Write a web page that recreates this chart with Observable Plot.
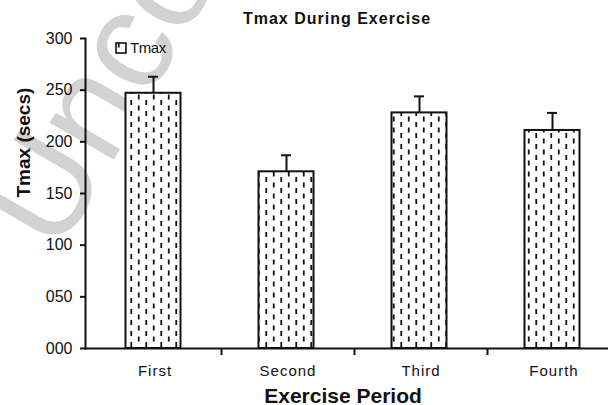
<!DOCTYPE html>
<html>
<head>
<meta charset="utf-8">
<script src="https://cdn.jsdelivr.net/npm/d3@7"></script>
<script src="https://cdn.jsdelivr.net/npm/@observablehq/plot@0.6"></script>
<style>
  html, body { margin: 0; padding: 0; background: #fff; }
  #wrap { position: relative; width: 608px; height: 405px; overflow: hidden; font-family: "Liberation Sans", Arial, sans-serif; color: #111; }
  #title { position: absolute; left: 0; top: 0; width: 608px; box-sizing: border-box; padding-left: 66px; padding-top: 12px;
           text-align: center; font-weight: bold; font-size: 16px; line-height: 14px; letter-spacing: 1px; z-index: 2; }
  #chart { position: absolute; left: 0; top: 28px; }
  #legend { position: absolute; left: 115px; top: 40px; display: flex; align-items: center; font-size: 15px; line-height: 16px; letter-spacing: -0.4px; z-index: 2; }
  #legend svg { margin-right: 3px; }
  g[aria-label="x-axis tick label"] text { letter-spacing: 1px; }
</style>
</head>
<body>
<div id="wrap">
  <div id="title">Tmax During Exercise</div>
  <div id="chart"></div>
  <div id="legend"></div>
</div>
<script>
const periods = ["First", "Second", "Third", "Fourth"];
const tmax = [247, 171, 228, 211];
const tmaxErr = [16, 16, 16, 17];
const yTicks = [0, 50, 100, 150, 200, 250, 300];
const seriesName = "Tmax";
const watermark = ["Uncorrected"];

const data = periods.map((p, i) => ({period: p, value: tmax[i], err: tmaxErr[i]}));

const plot = Plot.plot({
  width: 608,
  height: 377,
  marginTop: 10,
  marginBottom: 57,
  marginLeft: 85,
  marginRight: 0,
  style: {fontFamily: "'Liberation Sans', Arial, sans-serif", fontSize: "16px", color: "#111", background: "white", overflow: "visible"},
  x: {domain: periods, range: [87, 620], padding: 0, label: null},
  y: {domain: [0, 300], label: null},
  marks: [
    Plot.text(watermark, {text: d => d, frameAnchor: "top-left", dx: -27, dy: 217, rotate: -60,
      textAnchor: "start", lineAnchor: "bottom", fontSize: 140, fill: "#d2d2d2"}),
    Plot.barY(data, {x: "period", y: "value", fill: "url(#dashfill)", stroke: "#111", strokeWidth: 2,
      insetLeft: 37.5, insetRight: 40.5}),
    Plot.ruleX(data, {x: "period", y1: "value", y2: d => d.value + d.err, stroke: "#111", strokeWidth: 2, dx: -1.5}),
    Plot.tickY(data, {x: "period", y: d => d.value + d.err, stroke: "#111", strokeWidth: 2, insetLeft: 60, insetRight: 63}),
    Plot.axisY({ticks: yTicks, tickFormat: d3.format("03d"), tickSize: 5, tickPadding: 8, fontSize: 16, stroke: "#111", strokeWidth: 2, label: null}),
    Plot.frame({anchor: "left", stroke: "#111", strokeWidth: 2}),
    Plot.ruleY([0], {stroke: "#111", strokeWidth: 2}),
    Plot.ruleX(periods.slice(0, -1), {x: d => d, y1: 0, y2: 0, dx: 66.5, insetBottom: -7, stroke: "#111", strokeWidth: 2}),
    Plot.axisX({tickSize: 0, tickPadding: 17, fontSize: 15, label: null}),
    Plot.text(["Tmax (secs)"], {text: d => d, frameAnchor: "left", dx: -62, dy: 4, rotate: -90, fontSize: 19, fontWeight: "bold", fill: "#111"}),
    Plot.text(["Exercise Period"], {text: d => d, frameAnchor: "bottom", dx: -4, dy: 54, fontSize: 21, fontWeight: "bold", fill: "#111"})
  ]
});

// dashed fill pattern
const defs = d3.select(plot).insert("defs", ":first-child");
function addPattern(sel, id) {
  const p = sel.append("pattern").attr("id", id).attr("patternUnits", "userSpaceOnUse")
    .attr("width", 15).attr("height", 11);
  p.append("rect").attr("width", 15).attr("height", 11).attr("fill", "white");
  p.append("line").attr("x1", 3.75).attr("x2", 3.75).attr("y1", 0.5).attr("y2", 5.5).attr("stroke", "#111").attr("stroke-width", 1.8);
  p.append("line").attr("x1", 11.25).attr("x2", 11.25).attr("y1", 6).attr("y2", 11).attr("stroke", "#111").attr("stroke-width", 1.8);
}
addPattern(defs, "dashfill");
document.getElementById("chart").appendChild(plot);

// legend
const leg = d3.select("#legend");
const sw = leg.append("svg").attr("width", 12).attr("height", 12);
addPattern(sw.append("defs"), "dashfill2");
sw.append("rect").attr("x", 1).attr("y", 1).attr("width", 10).attr("height", 10)
  .attr("fill", "url(#dashfill2)").attr("stroke", "#111").attr("stroke-width", 1.6);
leg.append("span").text(seriesName);
</script>
</body>
</html>
